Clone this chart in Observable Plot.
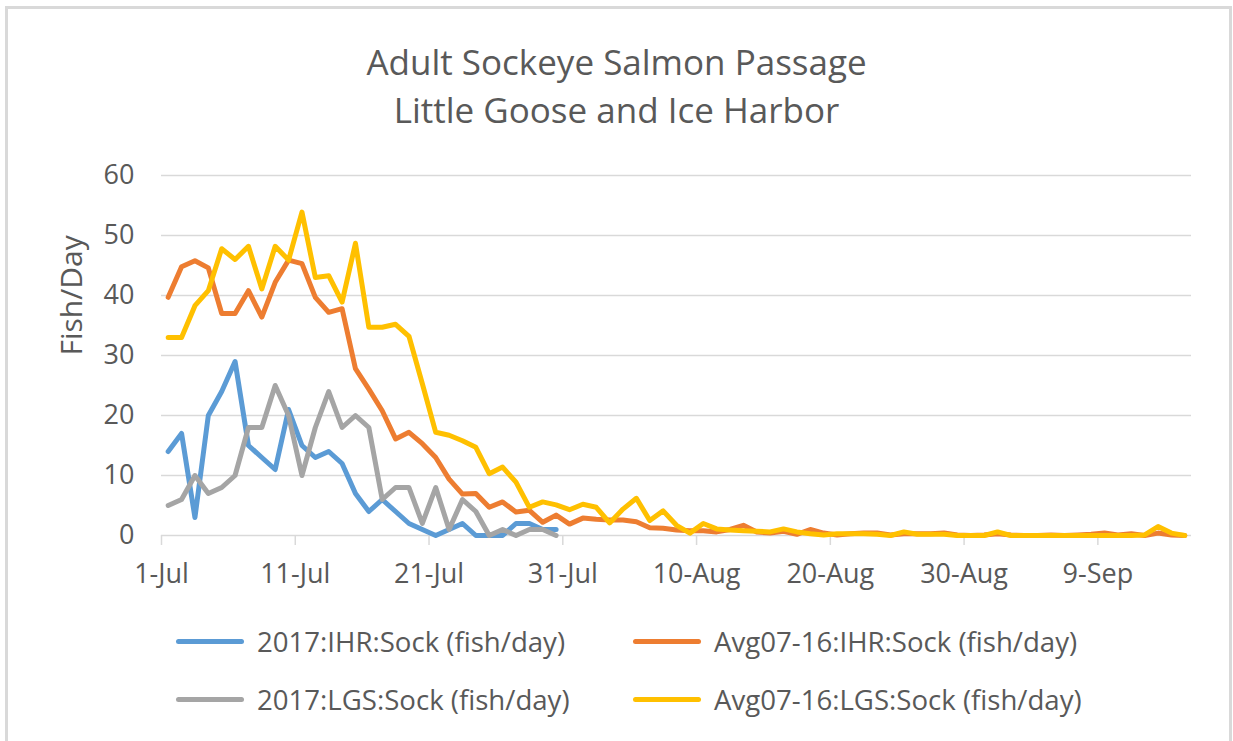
<!DOCTYPE html>
<html>
<head>
<meta charset="utf-8">
<script src="https://cdn.jsdelivr.net/npm/d3@7"></script>
<script src="https://cdn.jsdelivr.net/npm/@observablehq/plot@0.6"></script>
<style>
  body { margin: 0; background: #fff; font-family: "Open Sans", sans-serif; color: #595959; width: 1233px; height: 741px; overflow: hidden; position: relative; }
  #frame { position: absolute; left: 5px; top: 6px; width: 1221px; height: 760px; border: 3px solid #d9d9d9; border-bottom: none; }
  #title { position: absolute; left: 0; top: 38px; width: 1233px; text-align: center; font-size: 35px; line-height: 48px; color: #595959; }
  #chart { position: absolute; left: 0; top: 140px; }
  .item { position: absolute; display: flex; align-items: center; font-size: 27.6px; color: #595959; white-space: nowrap; height: 40px; }
  .sw { width: 68px; height: 5px; border-radius: 3px; margin-right: 13px; }
</style>
</head>
<body>
<div id="frame"></div>
<div id="title">Adult Sockeye Salmon Passage<br>Little Goose and Ice Harbor</div>
<div id="chart"></div>
<div id="legend"></div>
<script>
// ---- Data (fish/day), one value per day starting 1-Jul-2017 ----
const seriesNames = [
  "2017:IHR:Sock (fish/day)",
  "Avg07-16:IHR:Sock (fish/day)",
  "2017:LGS:Sock (fish/day)",
  "Avg07-16:LGS:Sock (fish/day)"
];
const seriesColors = ["#5B9BD5", "#ED7D31", "#A5A5A5", "#FFC000"];

const ihr2017 = [14, 17, 3, 20, 24, 29, 15, 13, 11, 21, 15, 13, 14, 12, 7, 4, 6, 4, 2, 1,
  0, 1, 2, 0, 0, 0, 2, 2, 1, 1];

const ihrAvg = [39.7, 44.8, 45.8, 44.6, 37, 37, 40.8, 36.4, 42.2, 45.9,
  45.3, 39.7, 37.2, 37.8, 27.8, 24.4, 20.8, 16.1, 17.2, 15.3,
  13, 9.4, 6.9, 7, 4.7, 5.6, 3.9, 4.2, 2.2, 3.4,
  1.9, 2.9, 2.7, 2.6, 2.6, 2.3, 1.3, 1.2, 0.9, 0.8,
  0.8, 0.6, 1.0, 1.7, 0.6, 0.4, 0.7, 0.2, 1.0, 0.4,
  0.1, 0.3, 0.4, 0.4, 0.1, 0.3, 0.3, 0.3, 0.4, 0.1,
  0, 0.1, 0.3, 0.1, 0, 0, 0.1, 0, 0.1, 0.2,
  0.4, 0.1, 0.3, 0, 0.4, 0.1, 0];

const lgs2017 = [5, 6, 10, 7, 8, 10, 18, 18, 25, 20, 10, 18, 24, 18, 20, 18, 6, 8, 8, 2,
  8, 1, 6, 4, 0, 1, 0, 1, 1, 0];

const lgsAvg = [33, 33, 38.3, 40.8, 47.8, 46, 48.2, 41.1, 48.2, 45.9,
  53.9, 43, 43.3, 38.9, 48.7, 34.7, 34.7, 35.2, 33.2, 25.3,
  17.2, 16.7, 15.8, 14.7, 10.3, 11.4, 8.9, 4.7, 5.6, 5.1,
  4.3, 5.2, 4.7, 2.1, 4.4, 6.2, 2.5, 4.1, 1.7, 0.4,
  2.0, 1.1, 0.9, 0.8, 0.7, 0.6, 1.1, 0.6, 0.3, 0.1,
  0.3, 0.3, 0.3, 0.2, 0, 0.6, 0.2, 0.2, 0.2, 0,
  0, 0, 0.6, 0, 0, 0, 0, 0, 0, 0,
  0, 0, 0, 0.1, 1.5, 0.4, 0];

const seriesValues = [ihr2017, ihrAvg, lgs2017, lgsAvg];
const drawOrder = [0, 1, 2, 3];

const yTicks = [0, 10, 20, 30, 40, 50, 60];
const xTickLabels = ["1-Jul", "11-Jul", "21-Jul", "31-Jul", "10-Aug", "20-Aug", "30-Aug", "9-Sep"];
const xTickDates = [
  new Date(Date.UTC(2017, 6, 1)), new Date(Date.UTC(2017, 6, 11)), new Date(Date.UTC(2017, 6, 21)),
  new Date(Date.UTC(2017, 6, 31)), new Date(Date.UTC(2017, 7, 10)), new Date(Date.UTC(2017, 7, 20)),
  new Date(Date.UTC(2017, 7, 30)), new Date(Date.UTC(2017, 8, 9))
];
const startDate = new Date(Date.UTC(2017, 6, 1));
const endDate = new Date(Date.UTC(2017, 8, 16));

// ---- Build table ----
const DAY = 864e5;
const rows = [];
drawOrder.forEach(k => {
  seriesValues[k].forEach((v, i) => {
    rows.push({ series: seriesNames[k], date: new Date(+startDate + (i + 0.5) * DAY), value: v });
  });
});
const labelOf = new Map(xTickDates.map((d, i) => [+d, xTickLabels[i]]));

const chart = Plot.plot({
  width: 1233,
  height: 470,
  marginLeft: 161,
  marginRight: 42,
  marginTop: 35,
  marginBottom: 75,
  style: { fontFamily: "'Open Sans', sans-serif", fontSize: "27px", color: "#595959", background: "transparent", overflow: "visible" },
  x: { type: "utc", domain: [startDate, endDate] },
  y: { domain: [0, 60] },
  color: { domain: seriesNames, range: seriesColors },
  marks: [
    Plot.ruleY(yTicks, { stroke: "#d9d9d9", strokeWidth: 1.5 }),
    Plot.axisY({ ticks: yTicks, tickSize: 0, tickPadding: 27, fontSize: 27, label: null }),
    Plot.text(["Fish/Day"], { frameAnchor: "left", dx: -89, rotate: -90, fontSize: 30, fill: "#595959" }),
    Plot.axisX({ ticks: xTickDates, tickFormat: d => labelOf.get(+d), tickSize: 10, tickPadding: 18,
      stroke: "#d9d9d9", fill: "#595959", fontSize: 27, label: null, strokeWidth: 1.5 }),
    Plot.line(rows, { x: "date", y: "value", z: "series", stroke: "series", strokeWidth: 5,
      strokeLinejoin: "round", strokeLinecap: "round" })
  ]
});
document.getElementById("chart").appendChild(chart);

// ---- Legend ----
const legend = document.getElementById("legend");
seriesNames.forEach((name, k) => {
  const col = k % 2, row = Math.floor(k / 2);
  const item = document.createElement("div");
  item.className = "item";
  item.style.left = (176 + col * 457) + "px";
  item.style.top = (621 + row * 58) + "px";
  const sw = document.createElement("div");
  sw.className = "sw";
  sw.style.background = seriesColors[k];
  const t = document.createElement("span");
  t.textContent = name;
  item.appendChild(sw);
  item.appendChild(t);
  legend.appendChild(item);
});
</script>
</body>
</html>
